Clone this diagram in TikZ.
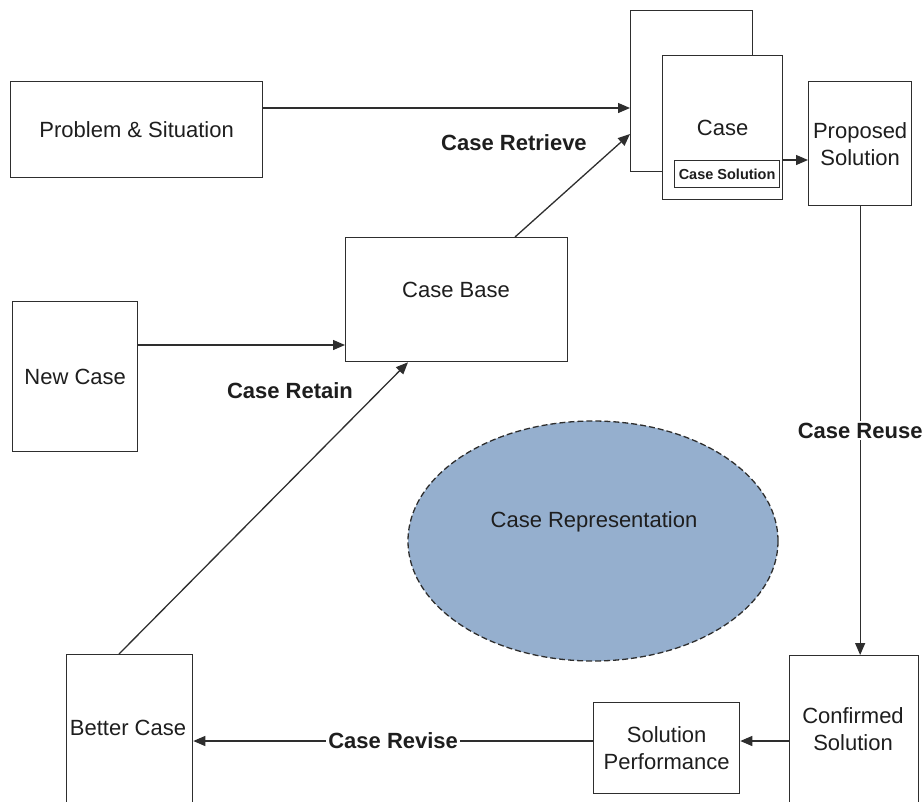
\documentclass[tikz,border=0pt]{standalone}
\usepackage{fontspec}
\setmainfont{Liberation Sans}
\usetikzlibrary{arrows.meta,shapes.geometric,calc}
\definecolor{ink}{HTML}{2E2E2E}
\definecolor{txt}{HTML}{1E1E1E}
\definecolor{repfill}{RGB}{149,175,206}
\begin{document}
\begin{tikzpicture}[x=1pt,y=-1pt,
  box/.style={draw=ink, line width=1.3pt, fill=white, rectangle, inner sep=0pt,
    anchor=north west, text=txt, align=center, font=\fontsize{22}{27}\selectfont},
  lbl/.style={text=txt, font=\fontsize{22}{27}\selectfont, align=center, inner sep=0pt},
  stage/.style={text=txt, font=\fontsize{22}{27}\selectfont\bfseries, inner sep=2pt, fill=white},
  arr/.style={draw=ink, line width=1.3pt, -{Triangle[length=12pt,width=10pt]}}]
\useasboundingbox (0,0) rectangle (924,801);
\clip (0,0) rectangle (924,801);

% case memory boxes
\node[box, minimum width=252, minimum height=96] (ps) at (10,81) {Problem \& Situation};
\node[box, minimum width=122, minimum height=161] (cback) at (630,10) {};
\node[box, minimum width=120, minimum height=144] (cfront) at (662,55) {Case};
\node[box, minimum width=105, minimum height=27, line width=1.2pt,
  font=\fontsize{14.5}{16}\selectfont\bfseries] (csol) at (674,160) {Case Solution};
\node[box, minimum width=103, minimum height=124] (prop) at (808,81) {Proposed\\Solution};

\node[box, minimum width=222, minimum height=124] (cb) at (345,237) {};
\node[lbl] (cbt) at (456,290) {Case Base};
\node[box, minimum width=125, minimum height=150] (nc) at (12,301) {New Case};

% lower row
\node[box, minimum width=126, minimum height=180] (bc) at (66,654) {};
\node[lbl] (bct) at (128,728) {Better Case};
\node[box, minimum width=146, minimum height=91] (sp) at (593,702) {Solution\\Performance};
\node[box, minimum width=129, minimum height=180] (conf) at (789,655) {};
\node[lbl] (conft) at (853,729) {Confirmed\\Solution};

% central representation
\node[ellipse, draw=ink, line width=1.3pt, dash pattern=on 6pt off 3pt, fill=repfill,
  minimum width=370, minimum height=240] (rep) at (593,541) {};
\node[lbl] (rept) at (594,522) {Case Representation};

% connectors
\draw[arr] (ps.east |- 0,108) -- (cback.west |- 0,108);
\draw[arr] (cb.north -| 515,0) -- (cback.west |- 0,134);
\draw[arr] (cfront.east |- csol.north) -- (prop.west |- csol.north);
\draw[arr] (nc.east |- 0,345) -- (cb.west |- 0,345);
\draw[arr] (bc.north -| 119,0) -- (cb.south -| 408,0);
\draw[arr] (prop.south) -- node[stage] (reuse) {Case Reuse} (prop.south |- conf.north);
\draw[arr] (conf.west |- 0,741) -- (sp.east |- 0,741);
\draw[arr] (sp.west |- 0,741) -- node[stage] (revise) {Case Revise} (bc.east |- 0,741);

% stage labels
\node[stage] (retrieve) at (514,143) {Case Retrieve};
\node[stage] (retain) at (290,391) {Case Retain};
\end{tikzpicture}
\end{document}
